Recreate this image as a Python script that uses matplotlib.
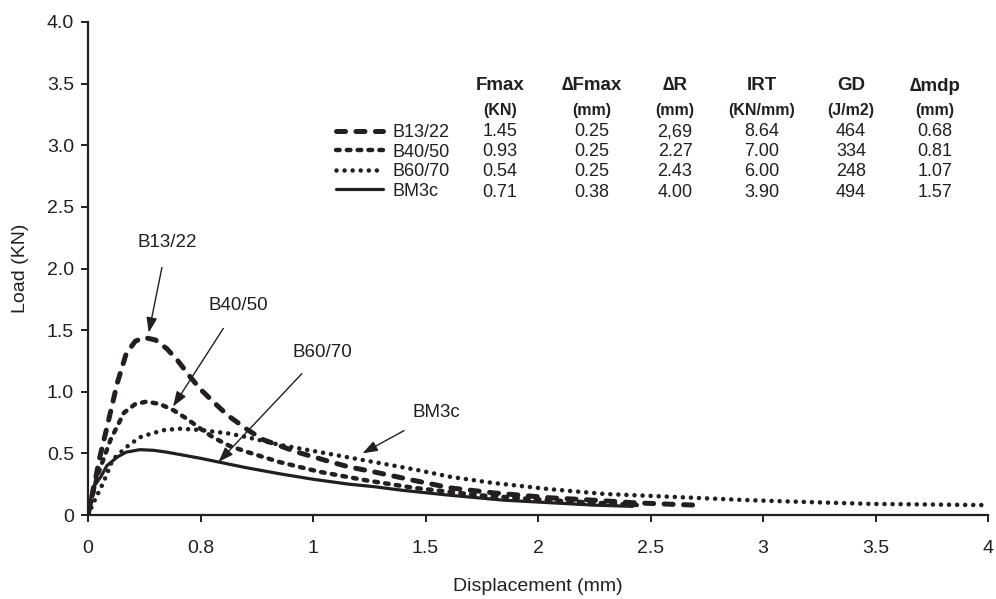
import matplotlib
matplotlib.use("Agg")
import matplotlib.pyplot as plt
from matplotlib import font_manager

avail = {f.name for f in font_manager.fontManager.ttflist}
fam = [f for f in ['Liberation Sans Narrow', 'Liberation Sans', 'DejaVu Sans'] if f in avail]
plt.rcParams['font.family'] = fam
plt.rcParams['lines.scale_dashes'] = False

# ---- data ----
x_b1322 = [0, 0.027, 0.05, 0.084, 0.13, 0.17, 0.21, 0.25, 0.30, 0.35, 0.40, 0.45, 0.50, 0.556,
           0.62, 0.71, 0.78, 0.93, 1.08, 1.16, 1.27, 1.45, 1.61, 1.80, 2.05, 2.25, 2.42, 2.55, 2.70]
y_b1322 = [0, 0.23, 0.45, 0.71, 1.07, 1.31, 1.41, 1.44, 1.42, 1.35, 1.25, 1.13, 1.02, 0.92,
           0.81, 0.69, 0.61, 0.51, 0.43, 0.39, 0.35, 0.28, 0.22, 0.18, 0.14, 0.12, 0.10, 0.09, 0.08]

x_b4050 = [0, 0.04, 0.10, 0.16, 0.21, 0.26, 0.32, 0.38, 0.44, 0.50, 0.556, 0.63, 0.71, 0.85,
           1.03, 1.24, 1.45, 1.74, 2.05, 2.25, 2.45]
y_b4050 = [0, 0.31, 0.61, 0.83, 0.90, 0.92, 0.90, 0.85, 0.78, 0.70, 0.63, 0.56, 0.51, 0.43,
           0.35, 0.28, 0.22, 0.16, 0.12, 0.10, 0.08]

x_b6070 = [0, 0.03, 0.07, 0.11, 0.17, 0.23, 0.28, 0.34, 0.41, 0.50, 0.63, 0.71, 0.85, 1.00,
           1.18, 1.30, 1.45, 1.61, 1.80, 2.05, 2.30, 2.50, 2.75, 2.94, 3.20, 3.48, 3.75, 4.00]
y_b6070 = [0, 0.12, 0.27, 0.45, 0.55, 0.63, 0.66, 0.69, 0.70, 0.69, 0.66, 0.63, 0.57, 0.52,
           0.46, 0.42, 0.37, 0.31, 0.26, 0.21, 0.17, 0.155, 0.135, 0.12, 0.105, 0.09, 0.085, 0.08]

x_bm3c = [0, 0.02, 0.057, 0.084, 0.13, 0.17, 0.23, 0.29, 0.35, 0.41, 0.50, 0.58, 0.70, 0.85,
          1.00, 1.16, 1.27, 1.40, 1.61, 1.85, 2.05, 2.25, 2.42]
y_bm3c = [0, 0.22, 0.31, 0.40, 0.47, 0.51, 0.53, 0.525, 0.51, 0.49, 0.46, 0.43, 0.385, 0.335,
          0.29, 0.25, 0.23, 0.20, 0.16, 0.12, 0.10, 0.08, 0.07]

series_names = ['B13/22', 'B40/50', 'B60/70', 'BM3c']

xtick_pos = [0, 0.5, 1, 1.5, 2, 2.5, 3, 3.5, 4]
xtick_lab = ['0', '0.8', '1', '1.5', '2', '2.5', '3', '3.5', '4']
ytick_pos = [0, 0.5, 1.0, 1.5, 2.0, 2.5, 3.0, 3.5, 4.0]
ytick_lab = ['0', '0.5', '1.0', '1.5', '2.0', '2.5', '3.0', '3.5', '4.0']

col_heads = ['Fmax', '\u2206Fmax', '\u2206R', 'IRT', 'GD', '\u2206mdp']
col_units = ['(KN)', '(mm)', '(mm)', '(KN/mm)', '(J/m2)', '(mm)']
fmax = ['1.45', '0.93', '0.54', '0.71']
dfmax = ['0.25', '0.25', '0.25', '0.38']
dr = ['2,69', '2.27', '2.43', '4.00']
irt = ['8.64', '7.00', '6.00', '3.90']
gd = ['464', '334', '248', '494']
dmdp = ['0.68', '0.81', '1.07', '1.57']

# annotations: label, text position, arrow tip (data coords)
ann_labels = ['B13/22', 'B40/50', 'B60/70', 'BM3c']
ann_text_xy = [(0.351, 2.21), (0.667, 1.70), (1.04, 1.32), (1.55, 0.83)]
ann_tip_xy = [(0.27, 1.48), (0.378, 0.88), (0.58, 0.43), (1.22, 0.50)]

# ---- figure ----
W, H = 996, 599
fig = plt.figure(figsize=(W / 100, H / 100), dpi=100)
ax = fig.add_axes([88 / W, 1 - 515 / H, (988 - 88) / W, (515 - 22) / H])

c = '#231f20'
l1, = ax.plot(x_b1322, y_b1322, color=c, lw=3.6, dashes=(6.5, 7.5),
              dash_capstyle='round', solid_joinstyle='round')
l2, = ax.plot(x_b4050, y_b4050, color=c, lw=3.2, dashes=(2.6, 5.2),
              dash_capstyle='round')
l3, = ax.plot(x_b6070, y_b6070, color=c, lw=3.3, dashes=(0.01, 5.8),
              dash_capstyle='round')
l4, = ax.plot(x_bm3c, y_bm3c, color=c, lw=2.3, solid_capstyle='round')

ax.set_xlim(0, 4)
ax.set_ylim(0, 4)
ax.set_xticks(xtick_pos)
ax.set_xticklabels(xtick_lab)
ax.set_yticks(ytick_pos)
ax.set_yticklabels(ytick_lab)
for s in ['top', 'right']:
    ax.spines[s].set_visible(False)
for s in ['left', 'bottom']:
    ax.spines[s].set_linewidth(1.6)
    ax.spines[s].set_color(c)
ax.tick_params(axis='both', direction='out', length=5, width=1.4, color=c,
               labelsize=14, labelcolor=c)
ax.tick_params(axis='x', pad=13)
ax.tick_params(axis='y', pad=5)
ax.set_xlabel('Displacement (mm)', fontsize=14, color=c, labelpad=15)
ax.set_ylabel('Load (KN)', fontsize=14, color=c, labelpad=13)

for lab, txy, pxy in zip(ann_labels, ann_text_xy, ann_tip_xy):
    ax.annotate(lab, xy=pxy, xytext=txy, fontsize=13.5, color=c,
                ha='center', va='center',
                arrowprops=dict(arrowstyle='-|>,head_length=0.7,head_width=0.25',
                                color=c, lw=1.0, shrinkA=10, shrinkB=0,
                                mutation_scale=13))

leg = ax.legend([l1, l2, l3, l4], series_names, loc='upper left',
                bbox_to_anchor=(336 / W, 1 - 124 / H), bbox_transform=fig.transFigure,
                frameon=False, fontsize=13, handlelength=2.6, handletextpad=0.55,
                labelspacing=0.14, borderpad=0, borderaxespad=0)
for t in leg.get_texts():
    t.set_color(c)

col_x = [500, 592, 675, 762, 851, 935]
row_y = [132, 152, 172, 192]
cols = [fmax, dfmax, dr, irt, gd, dmdp]
for cx, head, unit, vals in zip(col_x, col_heads, col_units, cols):
    fig.text(cx / W, 1 - 86 / H, head, ha='center', va='center', fontsize=13.5,
             fontweight='bold', color=c)
    fig.text(cx / W, 1 - 111 / H, unit, ha='center', va='center', fontsize=11.5,
             fontweight='bold', color=c)
    for ry, v in zip(row_y, vals):
        fig.text(cx / W, 1 - ry / H, v, ha='center', va='center', fontsize=13, color=c)

fig.savefig('out.png', dpi=100)
